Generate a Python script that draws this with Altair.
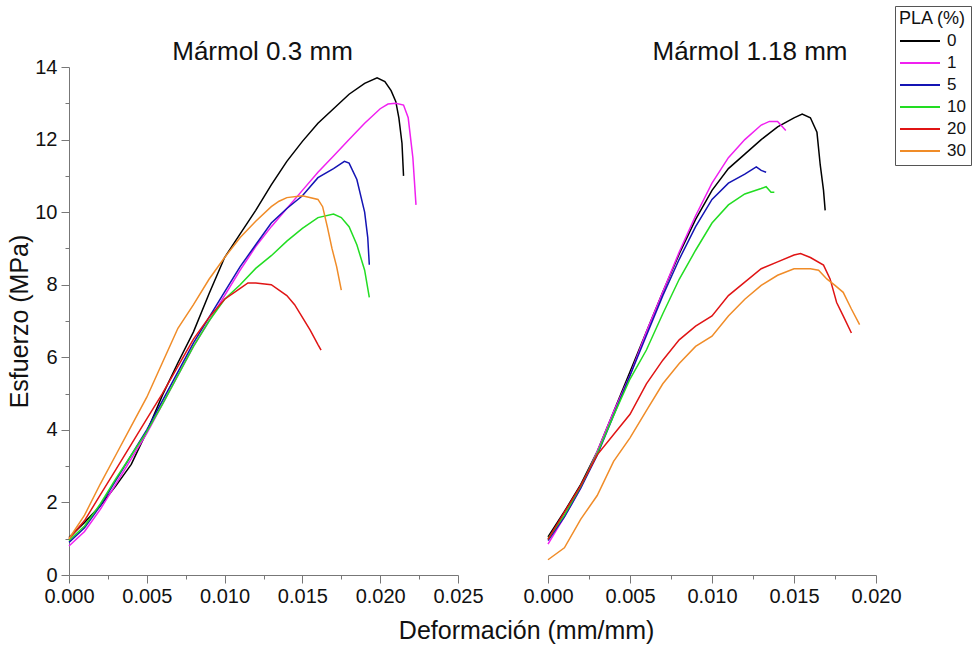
import altair as alt
import pandas as pd

FONT = "Liberation Sans"

pla_levels = ["0", "1", "5", "10", "20", "30"]
pla_colors = ["#000000", "#F020F0", "#1414B4", "#22DD22", "#E01414", "#F08C28"]

# ---------- Panel 1: Mármol 0.3 mm ----------
a0_x = [0, .001, .002, .003, .004, .005, .006, .007, .008, .009, .010, .011, .012, .013, .014, .015, .016, .017, .018, .019, .0198, .0203, .0207, .0210, .0212, .0214, .0215]
a0_y = [1.03, 1.45, 1.9, 2.45, 3.05, 3.95, 4.95, 5.85, 6.7, 7.75, 8.75, 9.4, 10.05, 10.75, 11.4, 11.95, 12.45, 12.85, 13.25, 13.55, 13.7, 13.6, 13.35, 13.05, 12.6, 11.9, 11.0]

a1_x = [0, .001, .002, .003, .004, .005, .006, .007, .008, .009, .010, .011, .012, .013, .014, .015, .016, .017, .018, .019, .020, .0205, .021, .0215, .0218, .0221, .0223]
a1_y = [0.8, 1.2, 1.8, 2.5, 3.2, 3.9, 4.7, 5.5, 6.3, 7.0, 7.7, 8.4, 9.05, 9.6, 10.1, 10.6, 11.1, 11.55, 12.0, 12.45, 12.85, 12.98, 13.0, 12.95, 12.6, 11.5, 10.2]

a5_x = [0, .001, .002, .003, .004, .005, .006, .007, .008, .009, .010, .011, .012, .013, .014, .015, .016, .017, .0177, .018, .0185, .019, .0192, .0193]
a5_y = [0.9, 1.3, 1.9, 2.6, 3.3, 4.0, 4.8, 5.6, 6.4, 7.1, 7.8, 8.5, 9.1, 9.7, 10.1, 10.45, 10.95, 11.2, 11.4, 11.35, 10.9, 10.0, 9.3, 8.55]

a10_x = [0, .001, .002, .003, .004, .005, .006, .007, .008, .009, .010, .011, .012, .013, .014, .015, .016, .017, .0175, .018, .0185, .019, .0193]
a10_y = [0.95, 1.35, 1.95, 2.65, 3.3, 3.95, 4.7, 5.5, 6.3, 7.0, 7.6, 8.0, 8.45, 8.8, 9.2, 9.55, 9.85, 9.95, 9.85, 9.6, 9.1, 8.4, 7.65]

a20_x = [0, .001, .002, .003, .004, .005, .006, .007, .008, .009, .010, .011, .0115, .012, .013, .014, .0145, .015, .0155, .016, .0162]
a20_y = [1.0, 1.5, 2.2, 2.9, 3.6, 4.3, 5.0, 5.75, 6.5, 7.1, 7.6, 7.9, 8.05, 8.05, 8.0, 7.7, 7.45, 7.1, 6.75, 6.35, 6.2]

a30_x = [0, .001, .002, .003, .004, .005, .006, .007, .008, .009, .010, .011, .012, .013, .0135, .014, .015, .016, .0163, .0166, .0169, .0172, .0175]
a30_y = [1.0, 1.65, 2.5, 3.3, 4.1, 4.9, 5.85, 6.8, 7.45, 8.15, 8.75, 9.3, 9.75, 10.15, 10.3, 10.4, 10.45, 10.35, 10.15, 9.6, 9.0, 8.5, 7.85]

# ---------- Panel 2: Mármol 1.18 mm ----------
b0_x = [0, .001, .002, .003, .004, .005, .006, .007, .008, .009, .010, .011, .012, .013, .014, .015, .0155, .016, .0164, .0166, .0168, .0169]
b0_y = [1.05, 1.75, 2.5, 3.4, 4.5, 5.6, 6.7, 7.8, 8.85, 9.8, 10.6, 11.2, 11.6, 12.0, 12.35, 12.6, 12.7, 12.6, 12.2, 11.3, 10.6, 10.05]

b1_x = [0, .001, .002, .003, .004, .005, .006, .007, .008, .009, .010, .011, .012, .013, .0135, .014, .0145]
b1_y = [0.85, 1.6, 2.4, 3.4, 4.5, 5.5, 6.7, 7.8, 8.9, 9.9, 10.8, 11.5, 12.0, 12.4, 12.5, 12.5, 12.25]

b5_x = [0, .001, .002, .003, .004, .005, .006, .007, .008, .009, .010, .011, .012, .0127, .013, .0133]
b5_y = [0.95, 1.6, 2.4, 3.3, 4.4, 5.5, 6.6, 7.7, 8.7, 9.6, 10.35, 10.8, 11.05, 11.25, 11.15, 11.1]

b10_x = [0, .001, .002, .003, .004, .005, .006, .007, .008, .009, .010, .011, .012, .013, .0133, .0136, .0138]
b10_y = [1.0, 1.65, 2.45, 3.35, 4.4, 5.4, 6.2, 7.2, 8.15, 8.95, 9.7, 10.2, 10.5, 10.65, 10.7, 10.55, 10.55]

b20_x = [0, .001, .002, .003, .004, .005, .006, .007, .008, .009, .010, .011, .012, .013, .014, .015, .0154, .016, .0168, .0172, .0176, .018, .0185]
b20_y = [0.98, 1.73, 2.47, 3.31, 3.87, 4.43, 5.27, 5.92, 6.48, 6.86, 7.14, 7.7, 8.07, 8.44, 8.63, 8.82, 8.86, 8.75, 8.54, 8.16, 7.51, 7.14, 6.67]

b30_x = [0, .001, .002, .003, .004, .005, .006, .007, .008, .009, .010, .011, .012, .013, .014, .015, .016, .0165, .017, .0175, .018, .0185, .019]
b30_y = [0.42, 0.75, 1.54, 2.19, 3.13, 3.78, 4.53, 5.27, 5.83, 6.3, 6.58, 7.14, 7.6, 7.98, 8.26, 8.44, 8.44, 8.4, 8.16, 7.98, 7.79, 7.33, 6.9]

panel_a = {"0": (a0_x, a0_y), "1": (a1_x, a1_y), "5": (a5_x, a5_y),
           "10": (a10_x, a10_y), "20": (a20_x, a20_y), "30": (a30_x, a30_y)}
panel_b = {"0": (b0_x, b0_y), "1": (b1_x, b1_y), "5": (b5_x, b5_y),
           "10": (b10_x, b10_y), "20": (b20_x, b20_y), "30": (b30_x, b30_y)}


def to_frame(series):
    rows = []
    for name, (xs, ys) in series.items():
        for i, (xv, yv) in enumerate(zip(xs, ys)):
            rows.append({"pla": name, "i": i, "x": xv, "y": yv})
    return pd.DataFrame(rows)


df_a = to_frame(panel_a)
df_b = to_frame(panel_b)

color = alt.Color(
    "pla:N",
    scale=alt.Scale(domain=pla_levels, range=pla_colors),
    legend=alt.Legend(title="PLA (%)"),
)

major_x = "abs(datum.value*200 - round(datum.value*200)) < 0.001"


def x_axis(maxv):
    n = int(round(maxv / 0.0025))
    return alt.Axis(
        values=[round(k * 0.0025, 4) for k in range(n + 1)],
        labelExpr=f"{major_x} ? format(datum.value, '.3f') : ''",
        tickSize={"condition": {"test": major_x, "value": 8}, "value": 4},
        title=None,
        grid=False,
        labelFlush=False,
        labelOverlap=False,
        labelPadding=3,
    )


y_axis = alt.Axis(
    values=list(range(0, 15)),
    labelExpr="datum.value % 2 == 0 ? datum.label : ''",
    tickSize={"condition": {"test": "datum.value % 2 == 0", "value": 8}, "value": 4},
    title="Esfuerzo (MPa)",
    grid=False,
    labelPadding=4,
    titlePadding=2,
)

left = alt.Chart(df_a).mark_line(strokeWidth=1.5).encode(
    x=alt.X("x:Q", scale=alt.Scale(domain=[0, 0.025], nice=False), axis=x_axis(0.025)),
    y=alt.Y("y:Q", scale=alt.Scale(domain=[0, 14], nice=False), axis=y_axis),
    color=color,
    order="i:Q",
).properties(
    width=389, height=508,
    title=alt.TitleParams("Mármol 0.3 mm", fontSize=26, font=FONT, fontWeight="normal",
                          anchor="middle", offset=-8, dx=-1, color="#111"),
)

right = alt.Chart(df_b).mark_line(strokeWidth=1.5).encode(
    x=alt.X("x:Q", scale=alt.Scale(domain=[0, 0.020], nice=False), axis=x_axis(0.020)),
    y=alt.Y("y:Q", scale=alt.Scale(domain=[0, 14], nice=False), axis=None),
    color=color,
    order="i:Q",
).properties(
    width=328, height=508,
    title=alt.TitleParams("Mármol 1.18 mm", fontSize=26, font=FONT, fontWeight="normal",
                          anchor="middle", offset=2, dx=38, color="#111"),
)

chart = alt.hconcat(left, right, spacing=38).properties(
    title=alt.TitleParams("Deformación (mm/mm)", orient="bottom", anchor="middle",
                          fontSize=25, font=FONT, fontWeight="normal", color="#111",
                          offset=13, dx=37),
    padding={"left": 7, "top": 5, "right": 0, "bottom": 0},
).configure_view(stroke=None).configure_axis(
    domainColor="#777", tickColor="#777", domainWidth=1, tickWidth=1,
    labelFont=FONT, labelFontSize=20, labelColor="#111",
    titleFont=FONT, titleFontSize=25, titleFontWeight="normal", titleColor="#111",
).configure_legend(
    orient="none", legendX=826, legendY=-61,
    titleFont=FONT, titleFontSize=18, titleFontWeight="normal", titleColor="#111",
    labelFont=FONT, labelFontSize=17, labelColor="#111",
    symbolType="stroke", symbolSize=1600, symbolStrokeWidth=2,
    clipHeight=20, rowPadding=2, labelOffset=6, titlePadding=3,
    strokeColor="#555", padding=4, fillColor="white",
)

chart.save("out.html", embed_options={"renderer": "svg", "actions": False})
